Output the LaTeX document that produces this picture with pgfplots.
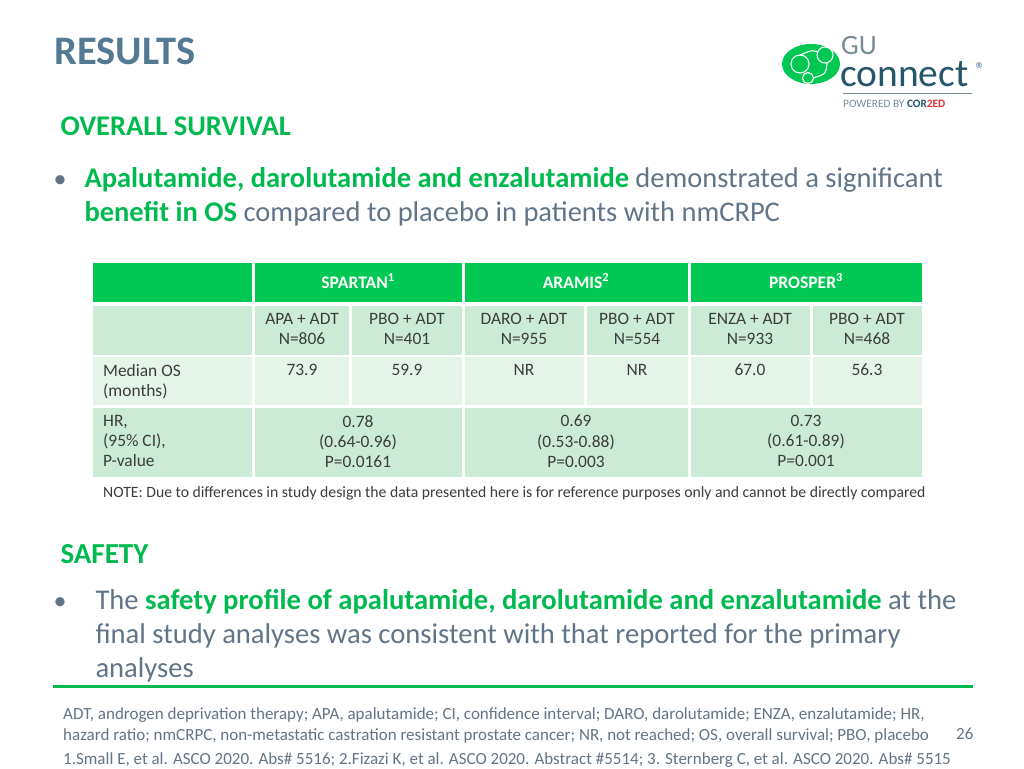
\documentclass[border=0pt]{standalone}
\usepackage{fontspec}
\setmainfont{Carlito}
\newfontfamily\dejavu{DejaVu Sans}
\usepackage{pgfplots}
\pgfplotsset{compat=1.18}

\definecolor{titleblue}{RGB}{84,121,146}
\definecolor{bodygray}{RGB}{98,117,136}
\definecolor{txtgreen}{RGB}{0,186,80}
\definecolor{hdrgreen}{RGB}{0,200,82}
\definecolor{cellA}{RGB}{204,235,214}
\definecolor{cellB}{RGB}{229,244,233}
\definecolor{celltxt}{RGB}{60,60,60}
\definecolor{footgray}{RGB}{100,116,132}
\definecolor{logoteal}{RGB}{38,86,108}
\definecolor{logogray}{RGB}{120,140,150}
\definecolor{logored}{RGB}{220,50,50}

\newcommand{\fs}[1]{\fontsize{#1}{#1}\selectfont}
\newcommand{\cell}[5]{\fill[#1] (axis cs:#2,#3) rectangle (axis cs:#4,#5);}

\begin{document}
\begin{tikzpicture}
\begin{axis}[
  scale only axis, width=1024pt, height=768pt,
  xmin=0, xmax=1024, ymin=0, ymax=768, y dir=reverse,
  hide axis, clip=false,
]
\addplot[draw=none, fill=white] coordinates {(0,0) (1024,0) (1024,768) (0,768)} -- cycle;

% title
\node[anchor=base west, text=titleblue, font=\fs{40.5}\bfseries] at (axis cs:51,64) {RESULTS};

% logo
\fill[hdrgreen] (axis cs:811,64) ellipse [x radius=29pt, y radius=20pt];
\draw[white, line width=1.1pt] (axis cs:800,64) circle [radius=9pt];
\draw[white, line width=1.1pt] (axis cs:825,55) circle [radius=8pt];
\draw[white, line width=1.1pt] (axis cs:808,78) circle [radius=5.5pt];
\draw[white, line width=1.1pt] (axis cs:800,55) .. controls (axis cs:812,50) .. (axis cs:818,52);
\draw[white, line width=1.1pt] (axis cs:827,63) .. controls (axis cs:826,74) .. (axis cs:813,78);
\node[anchor=base west, text=logogray, font=\fs{28}, inner sep=0pt] at (axis cs:841,55) {GU};
\node[anchor=base west, text=logoteal, font=\fs{39.5}, inner sep=0pt] at (axis cs:840,86.5) {connect};
\node[anchor=center, text=logoteal, font=\dejavu\fs{8}, inner sep=0pt] at (axis cs:979,66) {®};
\draw[logogray, line width=0.8pt] (axis cs:843,93) -- (axis cs:972,93);
\node[anchor=base west, inner sep=0pt, font=\fs{11.3}] at (axis cs:843,107)
  {\textcolor{logogray}{POWERED BY }\textcolor{logoteal}{\bfseries COR}\textcolor{logored}{\bfseries 2ED}};

% overall survival
\node[anchor=base west, text=txtgreen, font=\fs{28.5}\bfseries] at (axis cs:57,135) {OVERALL SURVIVAL};
\node[anchor=base west, text=bodygray, font=\fs{26}] at (axis cs:50,187) {•};
\node[anchor=base west, text=bodygray, font=\fs{28.5}] at (axis cs:81,187)
  {\textcolor{txtgreen}{\bfseries Apalutamide, darolutamide and enzalutamide} demonstrated a significant};
\node[anchor=base west, text=bodygray, font=\fs{28.5}] at (axis cs:81,221)
  {\textcolor{txtgreen}{\bfseries benefit in OS} compared to placebo in patients with nmCRPC};

% table: header row
\cell{hdrgreen}{93}{263}{252}{302}
\cell{hdrgreen}{255}{263}{462}{302}
\cell{hdrgreen}{465}{263}{688}{302}
\cell{hdrgreen}{691}{263}{922}{302}
% row 2
\cell{cellA}{93}{306}{252}{355}
\cell{cellA}{255}{306}{349}{355}
\cell{cellA}{352}{306}{462}{355}
\cell{cellA}{465}{306}{584}{355}
\cell{cellA}{587}{306}{688}{355}
\cell{cellA}{691}{306}{810}{355}
\cell{cellA}{813}{306}{922}{355}
% row 3
\cell{cellB}{93}{357}{252}{405}
\cell{cellB}{255}{357}{349}{405}
\cell{cellB}{352}{357}{462}{405}
\cell{cellB}{465}{357}{584}{405}
\cell{cellB}{587}{357}{688}{405}
\cell{cellB}{691}{357}{810}{405}
\cell{cellB}{813}{357}{922}{405}
% row 4
\cell{cellA}{93}{408}{252}{477}
\cell{cellA}{255}{408}{462}{477}
\cell{cellA}{465}{408}{688}{477}
\cell{cellA}{691}{408}{922}{477}

\begin{scope}[every node/.style={font=\fs{17.4}, text=celltxt, inner sep=0pt}]
\node[text=white, font=\fs{17.6}\bfseries] at (axis cs:358,281) {SPARTAN\textsuperscript{1}};
\node[text=white, font=\fs{17.6}\bfseries] at (axis cs:576,281) {ARAMIS\textsuperscript{2}};
\node[text=white, font=\fs{17.6}\bfseries] at (axis cs:806,281) {PROSPER\textsuperscript{3}};
\node[align=center, anchor=north] at (axis cs:302,313) {APA + ADT\\[2.6pt]N=806};
\node[align=center, anchor=north] at (axis cs:407,313) {PBO + ADT\\[2.6pt]N=401};
\node[align=center, anchor=north] at (axis cs:524,313) {DARO + ADT\\[2.6pt]N=955};
\node[align=center, anchor=north] at (axis cs:637,313) {PBO + ADT\\[2.6pt]N=554};
\node[align=center, anchor=north] at (axis cs:750,313) {ENZA + ADT\\[2.6pt]N=933};
\node[align=center, anchor=north] at (axis cs:867,313) {PBO + ADT\\[2.6pt]N=468};
\node[align=left, anchor=north west] at (axis cs:103,364) {Median OS\\[2.6pt](months)};
\node[anchor=north] at (axis cs:302,364) {73.9};
\node[anchor=north] at (axis cs:407,364) {59.9};
\node[anchor=north] at (axis cs:524,364) {NR};
\node[anchor=north] at (axis cs:637,364) {NR};
\node[anchor=north] at (axis cs:750,364) {67.0};
\node[anchor=north] at (axis cs:867,364) {56.3};
\node[align=left, anchor=north west] at (axis cs:103,415) {HR,\\[2.8pt](95\% CI),\\[2.8pt]P-value};
\node[align=center, anchor=north] at (axis cs:358,415) {0.78\\[2.8pt](0.64-0.96)\\[2.8pt]P=0.0161};
\node[align=center, anchor=north] at (axis cs:576,415) {0.69\\[2.8pt](0.53-0.88)\\[2.8pt]P=0.003};
\node[align=center, anchor=north] at (axis cs:806,415) {0.73\\[2.8pt](0.61-0.89)\\[2.8pt]P=0.001};
\node[anchor=base west, font=\fs{15.7}] at (axis cs:103,497)
  {NOTE: Due to differences in study design the data presented here is for reference purposes only and cannot be directly compared};
\end{scope}

% safety
\node[anchor=base west, text=txtgreen, font=\fs{29}\bfseries] at (axis cs:57,563) {SAFETY};
\node[anchor=base west, text=bodygray, font=\fs{26}] at (axis cs:50,609) {•};
\node[anchor=base west, text=bodygray, font=\fs{28.6}] at (axis cs:92,609)
  {The \textcolor{txtgreen}{\bfseries safety profile of apalutamide, darolutamide and enzalutamide} at the};
\node[anchor=base west, text=bodygray, font=\fs{28.6}] at (axis cs:92,643)
  {final study analyses was consistent with that reported for the primary};
\node[anchor=base west, text=bodygray, font=\fs{28.6}] at (axis cs:92,677) {analyses};

\draw[txtgreen, line width=3pt] (axis cs:53,686) -- (axis cs:973,686);

% footer
\begin{scope}[every node/.style={anchor=base west, text=footgray, font=\fs{17}, inner sep=0pt}]
\node at (axis cs:63,719) {ADT, androgen deprivation therapy; APA, apalutamide; CI, confidence interval; DARO, darolutamide; ENZA, enzalutamide; HR,};
\node at (axis cs:63,740) {hazard ratio; nmCRPC, non-metastatic castration resistant prostate cancer; NR, not reached; OS, overall survival; PBO, placebo};
\node at (axis cs:63,764) {1.Small E, et al. ASCO 2020. Abs\# 5516; 2.Fizazi K, et al. ASCO 2020. Abstract \#5514; 3. Sternberg C, et al. ASCO 2020. Abs\# 5515};
\node at (axis cs:956,739) {26};
\end{scope}
\end{axis}
\end{tikzpicture}
\end{document}
